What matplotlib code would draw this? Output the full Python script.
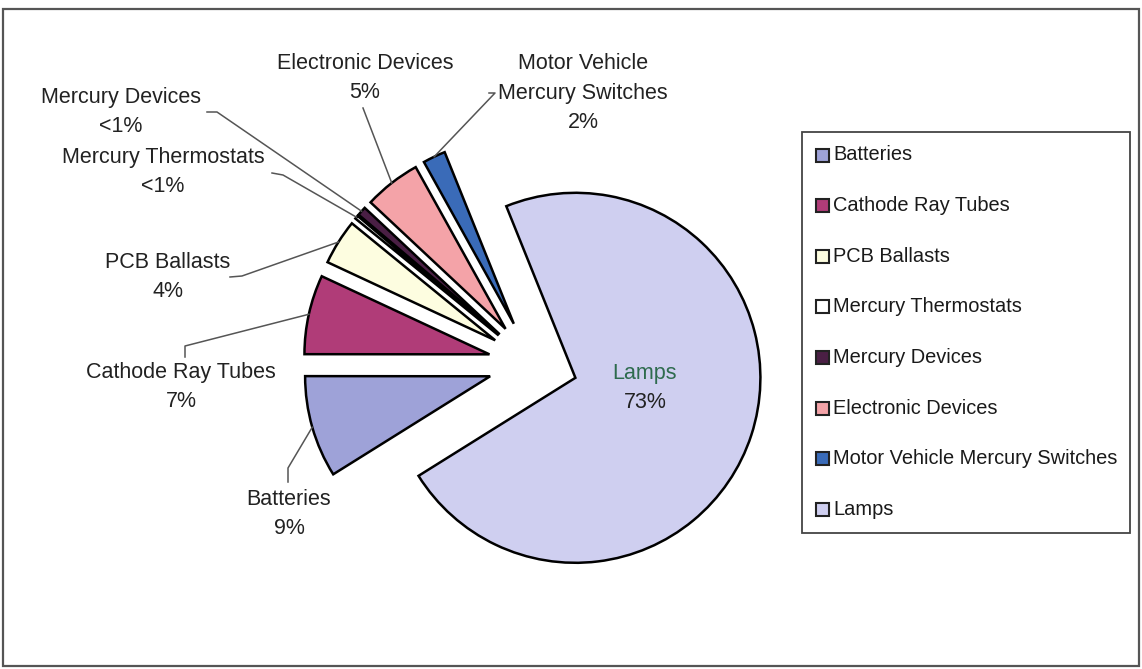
import numpy as np
import matplotlib.pyplot as plt
from matplotlib.patches import Rectangle

plt.rcParams['font.family'] = ['Liberation Sans', 'DejaVu Sans']

# Share of collected universal waste by category
categories = ["Batteries", "Cathode Ray Tubes", "PCB Ballasts", "Mercury Thermostats",
              "Mercury Devices", "Electronic Devices", "Motor Vehicle Mercury Switches", "Lamps"]
shares = [9, 7, 4, 0.3, 0.8, 5, 2, 73]
pct_labels = ["9%", "7%", "4%", "<1%", "<1%", "5%", "2%", "73%"]
pie_names = ["Batteries", "Cathode Ray Tubes", "PCB Ballasts", "Mercury Thermostats",
             "Mercury Devices", "Electronic Devices", "Motor Vehicle\nMercury Switches", "Lamps"]
colors = ["#9ea2d8", "#b03c78", "#fdfde0", "#ffffff",
          "#4a1f44", "#f4a3a8", "#3a6bb8", "#cfcff0"]

W, H = 1142, 669
fig = plt.figure(figsize=(W / 100, H / 100), dpi=100)
ax = fig.add_axes([0, 0, 1, 1])


def fy(y):
    # work in top-down pixel rows
    return H - y


R = 185
cx, cy = 533, fy(364)
# explode offset is in data units (pixels here)
wedges, _ = ax.pie(shares, colors=colors, startangle=212, counterclock=False,
                   radius=R, center=(cx, cy), explode=[44.6] * len(shares),
                   wedgeprops=dict(edgecolor="black", linewidth=1.8))
ax.set_xlim(0, W)
ax.set_ylim(0, H)
ax.set_aspect("equal")
ax.axis("off")

txt = dict(fontsize=15.5, color="#222222", ha="center", va="center", linespacing=1.55)

# label centre and leader path (pixel rows, top-down) for the outside labels
label_pos = {
    0: ((289, 514), [(288, 482), (288, 468)]),
    1: ((181, 387), [(185, 357), (185, 346)]),
    2: ((168, 277), [(230, 277), (242, 276)]),
    3: ((163, 172), [(272, 173), (283, 175)]),
    4: ((121, 112), [(207, 112), (217, 112)]),
    5: ((365, 78), [(363, 108)]),
    6: ((583, 93), [(489, 93), (495, 93)]),
}

for i, ((lx, ly), path) in label_pos.items():
    ax.text(lx, fy(ly), f"{pie_names[i]}\n{pct_labels[i]}", **txt)
    w = wedges[i]
    mid = np.deg2rad((w.theta1 + w.theta2) / 2)
    ex = w.center[0] + w.r * np.cos(mid)
    ey = w.center[1] + w.r * np.sin(mid)
    xs = [p[0] for p in path] + [ex]
    ys = [fy(p[1]) for p in path] + [ey]
    ax.plot(xs, ys, color="#555555", lw=1.1)

ax.text(645, fy(373), pie_names[7], fontsize=15.5, color="#2e6b4e", ha="center", va="center")
ax.text(645, fy(402), pct_labels[7], fontsize=15.5, color="#222222", ha="center", va="center")

# legend box
ax.add_patch(Rectangle((802, fy(533)), 1130 - 802, 533 - 132, fill=False,
                       edgecolor="#444444", lw=1.3))
for i, name in enumerate(categories):
    y = 155 + i * 50.6
    ax.add_patch(Rectangle((816, fy(y) - 6.5), 13, 13, facecolor=colors[i],
                           edgecolor="#222222", lw=1.5))
    ax.text(833, fy(y), name, fontsize=14.4, color="#1a1a1a", ha="left", va="center")

# chart frame
ax.add_patch(Rectangle((3, fy(666)), 1136, 666 - 9, fill=False,
                       edgecolor="#555555", lw=1.6))

fig.savefig("out.png", dpi=100)
